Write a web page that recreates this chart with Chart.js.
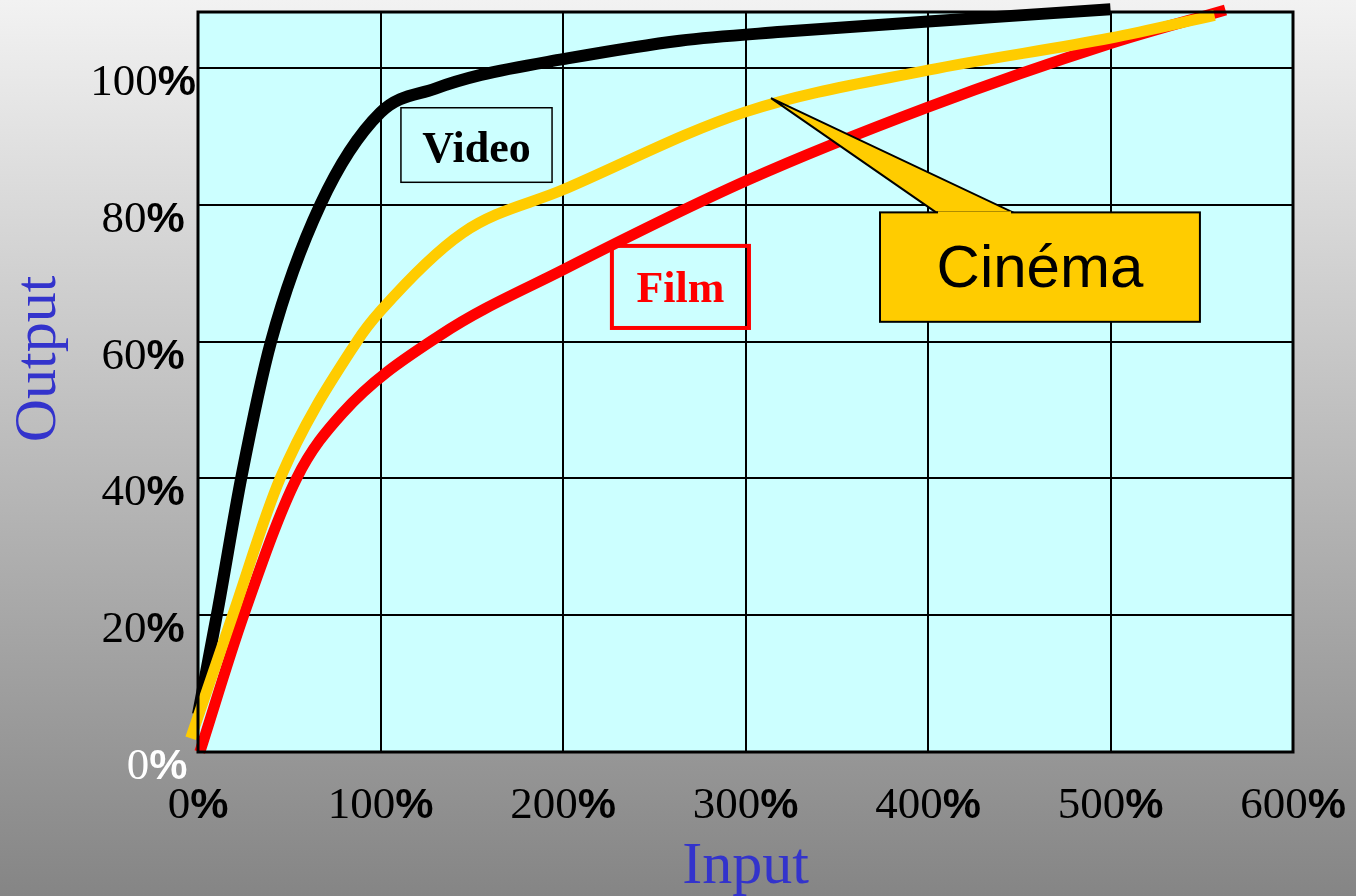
<!DOCTYPE html>
<html>
<head>
<meta charset="utf-8">
<script src="https://cdn.jsdelivr.net/npm/chart.js@4.4.1/dist/chart.umd.min.js"></script>
<style>
  html, body { margin: 0; padding: 0; }
  body { width: 1356px; height: 896px; background: linear-gradient(#f2f2f2, #858585); overflow: hidden; }
  canvas { display: block; }
</style>
</head>
<body>
<canvas id="curveCanvas" width="1356" height="896"></canvas>
<script>
// tick labels
const xTicks = [0, 100, 200, 300, 400, 500, 600];
const yTicks = [0, 20, 40, 60, 80, 100];

// Input (%) -> Output (%)
const videoX = [0, 11, 24, 40, 67, 100, 130, 155, 200, 264, 320, 400, 500];
const videoY = [5.5, 21, 40.5, 60, 80, 93.5, 97, 99, 101.3, 104, 105.3, 106.8, 108.6];

const cinemaX = [-4, 19, 45, 87, 100, 145, 200, 300, 400, 500, 557];
const cinemaY = [2, 20, 40, 60, 64.5, 75.9, 82.2, 93.6, 99.7, 104.4, 107.7];

const filmX = [1, 25, 54, 79, 133, 200, 301, 400, 500, 563];
const filmY = [0, 20, 40, 49.5, 61, 70.5, 83.6, 94.3, 103.6, 108.5];

function pts(xs, ys) {
    return xs.map(function (x, i) { return { x: x, y: ys[i] }; });
}

// draws "100" in serif + "%" in bold sans, centred on cx
function pctLabel(ctx, num, cx, baseY, color) {
    ctx.save();
    ctx.fillStyle = color;
    ctx.textBaseline = 'alphabetic';
    ctx.textAlign = 'left';
    ctx.font = '45px "Liberation Serif"';
    const wNum = ctx.measureText(num).width;
    ctx.font = 'bold 43px "Liberation Sans"';
    const wPct = ctx.measureText('%').width;
    const x0 = cx - (wNum + wPct) / 2;
    ctx.font = '45px "Liberation Serif"';
    ctx.fillText(num, x0, baseY);
    ctx.font = 'bold 43px "Liberation Sans"';
    ctx.fillText('%', x0 + wNum, baseY);
    ctx.restore();
}

const decor = {
    id: 'decor',
    beforeDraw: function (chart) {
        const a = chart.chartArea, ctx = chart.ctx;
        ctx.save();
        ctx.fillStyle = '#ccffff';
        ctx.fillRect(a.left, a.top, a.right - a.left, a.bottom - a.top);
        ctx.restore();
    },
    afterDraw: function (chart) {
        const a = chart.chartArea, ctx = chart.ctx;
        const xs = chart.scales.x, ys = chart.scales.y;
        ctx.save();
        ctx.strokeStyle = '#000';
        ctx.lineWidth = 3;
        ctx.strokeRect(a.left, a.top, a.right - a.left, a.bottom - a.top);
        ctx.restore();

        xTicks.forEach(function (v) {
            pctLabel(ctx, String(v), xs.getPixelForValue(v), a.bottom + 66, '#000');
        });
        yTicks.forEach(function (v) {
            const cx = v === 0 ? 157 : 143;
            pctLabel(ctx, String(v), cx, ys.getPixelForValue(v) + 27, v === 0 ? '#fff' : '#000');
        });

        // axis titles
        ctx.save();
        ctx.fillStyle = '#3333cc';
        ctx.font = '60px "Liberation Serif"';
        ctx.textAlign = 'center';
        ctx.textBaseline = 'alphabetic';
        ctx.fillText('Input', (a.left + a.right) / 2, 883);
        ctx.translate(55, 359);
        ctx.rotate(-Math.PI / 2);
        ctx.fillText('Output', 0, 0);
        ctx.restore();

        // Video label
        const X = function (v) { return xs.getPixelForValue(v); };
        const Y = function (v) { return ys.getPixelForValue(v); };
        ctx.save();
        ctx.strokeStyle = '#000';
        ctx.lineWidth = 1.5;
        ctx.strokeRect(X(111.2), Y(94.2), X(194) - X(111.2), Y(83.3) - Y(94.2));
        ctx.fillStyle = '#000';
        ctx.font = 'bold 44px "Liberation Serif"';
        ctx.textAlign = 'center';
        ctx.fillText('Video', (X(111.2) + X(194)) / 2, Y(86.3));

        // Film label
        ctx.strokeStyle = '#ff0000';
        ctx.lineWidth = 4;
        ctx.strokeRect(X(226.8), Y(74), X(301.9) - X(226.8), Y(62) - Y(74));
        ctx.fillStyle = '#ff0000';
        ctx.fillText('Film', (X(226.8) + X(301.9)) / 2, Y(65.8));

        // Cinéma callout
        ctx.beginPath();
        ctx.moveTo(X(404.4), Y(78.9));
        ctx.lineTo(X(314), Y(95.6));
        ctx.lineTo(X(446.6), Y(78.9));
        ctx.closePath();
        ctx.fillStyle = '#ffcc00';
        ctx.fill();
        ctx.strokeStyle = '#000';
        ctx.lineWidth = 2;
        ctx.stroke();
        ctx.fillRect(X(373.7), Y(78.9), X(549) - X(373.7), Y(62.9) - Y(78.9));
        ctx.strokeRect(X(373.7), Y(78.9), X(549) - X(373.7), Y(62.9) - Y(78.9));
        // hide the stroke under the pointer base
        ctx.fillRect(X(404.4) + 2, Y(78.9) - 1, X(446.6) - X(404.4) - 4, 3);
        ctx.fillStyle = '#000';
        ctx.font = '60px "Liberation Sans"';
        ctx.fillText('Cinéma', (X(373.7) + X(549)) / 2, Y(68));
        ctx.restore();
    }
};

const ctx = document.getElementById('curveCanvas');

const curveChart = new Chart(ctx, {
    type: 'scatter',
    data: {
        datasets: [
            {
                label: 'Cinéma',
                data: pts(cinemaX, cinemaY),
                borderColor: '#ffcc00',
                borderWidth: 11
            },
            {
                label: 'Video',
                data: pts(videoX, videoY),
                borderColor: '#000000',
                borderWidth: 12
            },
            {
                label: 'Film',
                data: pts(filmX, filmY),
                borderColor: '#ff0000',
                borderWidth: 11
            }
        ]
    },
    options: {
        responsive: false,
        animation: false,
        devicePixelRatio: 1,
        layout: { padding: { left: 198, right: 63, top: 12, bottom: 144 } },
        datasets: {
            scatter: {
                showLine: true,
                pointRadius: 0,
                clip: false,
                cubicInterpolationMode: 'monotone',
                borderCapStyle: 'butt'
            }
        },
        plugins: {
            legend: { display: false },
            tooltip: { enabled: false }
        },
        scales: {
            x: {
                type: 'linear',
                min: 0,
                max: 600,
                afterBuildTicks: function (s) { s.ticks = xTicks.map(function (v) { return { value: v }; }); },
                ticks: { display: false },
                grid: { color: '#000', lineWidth: 2, drawTicks: false },
                border: { display: false }
            },
            y: {
                type: 'linear',
                min: 0,
                max: 108.2,
                afterBuildTicks: function (s) { s.ticks = yTicks.map(function (v) { return { value: v }; }); },
                ticks: { display: false },
                grid: { color: '#000', lineWidth: 2, drawTicks: false },
                border: { display: false }
            }
        }
    },
    plugins: [decor]
});
</script>
</body>
</html>
